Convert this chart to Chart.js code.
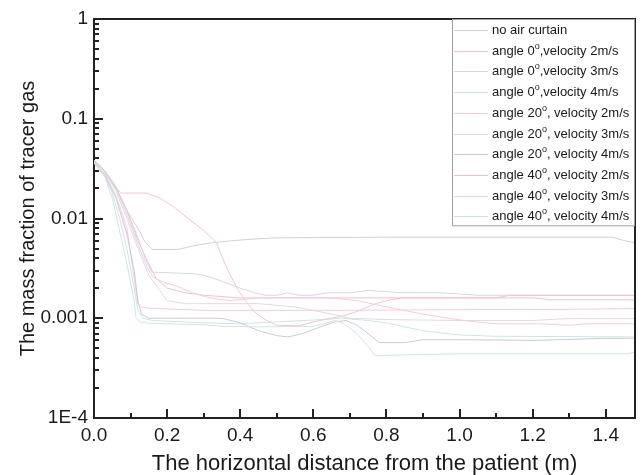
<!DOCTYPE html>
<html>
<head>
<meta charset="utf-8">
<script src="https://cdn.jsdelivr.net/npm/chart.js@4.4.1/dist/chart.umd.min.js"></script>
<style>
  html, body { margin: 0; padding: 0; background: #fff; }
  canvas { display: block; }
</style>
</head>
<body>
<canvas id="c" width="644" height="475"></canvas>
<script>
// ---------------- DATA ----------------
const seriesLabels = [
  'no air curtain',
  'angle 0°,velocity 2m/s',
  'angle 0°,velocity 3m/s',
  'angle 0°,velocity 4m/s',
  'angle 20°, velocity 2m/s',
  'angle 20°, velocity 3m/s',
  'angle 20°, velocity 4m/s',
  'angle 40°, velocity 2m/s',
  'angle 40°, velocity 3m/s',
  'angle 40°, velocity 4m/s'
];
const seriesColors = ['#d2d2d6','#f6c4cc','#d2d6ee','#cce9e0','#f6ccd8','#dedaec','#c9c9e0','#efc2ca','#f6ccd8','#cce7e0'];

const noCurtainX = [0,0.03,0.06,0.09,0.12,0.14,0.16,0.23,0.27,0.32,0.38,0.43,0.5,0.8,1.42,1.45,1.48];
const noCurtainY = [0.038,0.03,0.02,0.012,0.008,0.0058,0.0049,0.0049,0.0053,0.0057,0.006,0.0062,0.0064,0.0065,0.0065,0.006,0.0057];

const a0v2X = [0,0.02,0.04,0.06,0.075,0.145,0.18,0.22,0.26,0.3,0.335,0.36,0.38,0.395,0.42,0.44,0.47,0.5,0.56,0.6,0.65,0.68,0.72,0.77,0.8,0.84,1.1,1.14,1.48];
const a0v2Y = [0.038,0.033,0.026,0.02,0.018,0.018,0.016,0.013,0.0098,0.0076,0.0057,0.0034,0.0024,0.0019,0.0014,0.00115,0.00096,0.00085,0.00084,0.00092,0.001,0.00105,0.00117,0.0014,0.0015,0.0016,0.0016,0.0017,0.0017];

const a0v3X = [0,0.03,0.06,0.09,0.12,0.14,0.158,0.27,0.3,0.33,0.37,0.4,0.44,0.47,0.5,0.53,0.56,0.6,0.64,0.7,0.75,0.85,0.95,1.05,1.48];
const a0v3Y = [0.037,0.03,0.021,0.012,0.0065,0.004,0.0029,0.0028,0.0027,0.0025,0.0022,0.002,0.0018,0.0017,0.0017,0.0018,0.0017,0.0017,0.0018,0.0018,0.0019,0.0018,0.0018,0.0017,0.0017];

const a0v4X = [0,0.03,0.05,0.07,0.09,0.11,0.115,0.125,0.15,0.3,0.35,0.45,0.6,0.63,0.66,0.68,0.72,0.75,0.77,0.85,1.0,1.46,1.48];
const a0v4Y = [0.036,0.026,0.016,0.0075,0.0035,0.0015,0.001,0.00092,0.00089,0.00086,0.00083,0.00082,0.00083,0.00088,0.00095,0.0009,0.0007,0.00052,0.00042,0.00043,0.00044,0.00044,0.00046];

const a20v2X = [0,0.03,0.06,0.09,0.12,0.145,0.16,0.19,0.226,0.27,0.317,0.37,0.45,0.55,0.65,0.72,0.8,0.9,0.97,1.02,1.1,1.22,1.3,1.35,1.48];
const a20v2Y = [0.038,0.03,0.02,0.011,0.0055,0.0033,0.0026,0.0023,0.0021,0.0018,0.0016,0.0015,0.0016,0.0016,0.0016,0.0015,0.0013,0.0011,0.001,0.00094,0.00088,0.00088,0.00085,0.00088,0.00088];

const a20v3X = [0,0.03,0.06,0.09,0.12,0.15,0.18,0.2,0.25,0.35,0.45,0.55,0.6,0.65,0.7,0.8,1.0,1.2,1.29,1.48];
const a20v3Y = [0.037,0.029,0.019,0.01,0.005,0.0027,0.0019,0.0015,0.0014,0.0014,0.0014,0.0013,0.0012,0.0011,0.001,0.00097,0.00095,0.00095,0.00099,0.00099];

const a20v4X = [0,0.03,0.06,0.09,0.11,0.12,0.13,0.15,0.3,0.35,0.4,0.45,0.5,0.53,0.57,0.62,0.66,0.69,0.72,0.75,0.78,0.85,0.9,1.0,1.2,1.28,1.4,1.48];
const a20v4Y = [0.036,0.027,0.016,0.007,0.003,0.0015,0.0011,0.001,0.001,0.001,0.0009,0.00075,0.00067,0.00065,0.0007,0.00082,0.00092,0.00095,0.00085,0.0007,0.00057,0.00057,0.00061,0.00061,0.0006,0.00061,0.00063,0.00063];

const a40v2X = [0,0.03,0.06,0.09,0.12,0.15,0.17,0.2,0.25,0.3,0.4,0.6,0.85,1.0,1.2,1.25,1.48];
const a40v2Y = [0.038,0.03,0.02,0.012,0.006,0.0035,0.0025,0.002,0.0018,0.0017,0.0016,0.0016,0.0016,0.0016,0.0016,0.00153,0.00153];

const a40v3X = [0,0.03,0.06,0.09,0.11,0.12,0.13,0.15,0.3,0.5,0.7,1.0,1.3,1.48];
const a40v3Y = [0.037,0.028,0.017,0.008,0.0025,0.0014,0.0013,0.00126,0.0012,0.0012,0.0012,0.00122,0.00123,0.00125];

const a40v4X = [0,0.03,0.05,0.07,0.09,0.11,0.12,0.135,0.16,0.3,0.4,0.5,0.6,0.68,0.75,0.8,0.85,0.9,0.97,1.0,1.1,1.48];
const a40v4Y = [0.036,0.027,0.018,0.01,0.005,0.002,0.0012,0.001,0.00095,0.0009,0.00088,0.00092,0.00096,0.001,0.00095,0.0009,0.00082,0.00075,0.0007,0.00068,0.00066,0.00065];

const seriesX = [noCurtainX, a0v2X, a0v3X, a0v4X, a20v2X, a20v3X, a20v4X, a40v2X, a40v3X, a40v4X];
const seriesY = [noCurtainY, a0v2Y, a0v3Y, a0v4Y, a20v2Y, a20v3Y, a20v4Y, a40v2Y, a40v3Y, a40v4Y];

const xTickValues = [0,0.1,0.2,0.3,0.4,0.5,0.6,0.7,0.8,0.9,1.0,1.1,1.2,1.3,1.4];
const xTickLabels = ['0.0','','0.2','','0.4','','0.6','','0.8','','1.0','','1.2','','1.4'];
const yMajorValues = [1e-4, 1e-3, 1e-2, 0.1, 1];
const yMajorLabels = ['1E-4', '0.001', '0.01', '0.1', '1'];
const xTitle = 'The horizontal distance from the patient (m)';
const yTitle = 'The mass fraction of tracer gas';

// ---------------- CHART ----------------
const FONT = "'Liberation Sans', Arial, sans-serif";

const datasets = seriesLabels.map((lab, i) => ({
  label: lab,
  data: seriesX[i].map((x, j) => ({x: x, y: seriesY[i][j]})),
  borderColor: seriesColors[i],
  backgroundColor: seriesColors[i],
  borderWidth: 1,
  pointRadius: 0,
  tension: 0,
  fill: false
}));

function yAllTicks() {
  const t = [];
  for (let d = 0; d < yMajorValues.length; d++) {
    const base = yMajorValues[d];
    t.push({value: base});
    if (d < yMajorValues.length - 1) {
      for (let k = 2; k <= 9; k++) t.push({value: base * k});
    }
  }
  return t;
}

const inwardTicks = {
  id: 'inwardTicks',
  afterDatasetsDraw(chart) {
    const ctx = chart.ctx;
    const a = chart.chartArea;
    const xs = chart.scales.x, ys = chart.scales.y;
    ctx.save();
    ctx.strokeStyle = '#222';
    ctx.lineWidth = 2;
    ctx.beginPath();
    ctx.moveTo(a.left, a.top); ctx.lineTo(a.right, a.top); ctx.lineTo(a.right, a.bottom);
    ctx.stroke();
    xs.ticks.forEach((t, i) => {
      const px = Math.round(xs.getPixelForValue(t.value));
      const major = xTickLabels[i] !== '';
      ctx.lineWidth = 2;
      ctx.beginPath();
      ctx.moveTo(px, a.bottom);
      ctx.lineTo(px, a.bottom - (major ? 9 : 5));
      ctx.stroke();
    });
    ys.ticks.forEach(t => {
      const py = Math.round(ys.getPixelForValue(t.value));
      const major = yMajorValues.some(v => Math.abs(v - t.value) / v < 1e-9);
      ctx.lineWidth = 2;
      ctx.beginPath();
      ctx.moveTo(a.left, py);
      ctx.lineTo(a.left + (major ? 9 : 5), py);
      ctx.stroke();
    });
    ctx.restore();
  }
};

const insideLegend = {
  id: 'insideLegend',
  afterDraw(chart) {
    const ctx = chart.ctx;
    const a = chart.chartArea;
    const boxL = 452, boxT = a.top, boxR = a.right - 1, rowH = 20.7, firstY = 30;
    const boxB = firstY + rowH * (seriesLabels.length - 1) + 9;
    ctx.save();
    ctx.fillStyle = '#fff';
    ctx.fillRect(boxL, boxT + 1, boxR - boxL, boxB - boxT);
    ctx.strokeStyle = '#a0a0a0';
    ctx.lineWidth = 1;
    ctx.strokeRect(boxL + 0.5, boxT + 0.5, boxR - boxL, boxB - boxT);
    ctx.textBaseline = 'middle';
    ctx.fillStyle = '#1a1a1a';
    chart.data.datasets.forEach((ds, i) => {
      const y = Math.round(firstY + i * rowH) + 0.5;
      ctx.strokeStyle = ds.borderColor;
      ctx.beginPath();
      ctx.moveTo(boxL + 2, y); ctx.lineTo(boxL + 36, y);
      ctx.stroke();
      let x = boxL + 40;
      const parts = ds.label.split('°');
      ctx.font = '13px ' + FONT;
      ctx.fillText(parts[0], x, y);
      x += ctx.measureText(parts[0]).width;
      if (parts.length > 1) {
        ctx.font = '9px ' + FONT;
        ctx.fillText('o', x, y - 5);
        x += ctx.measureText('o').width;
        ctx.font = '13px ' + FONT;
        ctx.fillText(parts[1], x, y);
      }
    });
    ctx.restore();
  }
};

new Chart(document.getElementById('c'), {
  type: 'line',
  data: { datasets },
  options: {
    responsive: false,
    animation: false,
    devicePixelRatio: 1,
    layout: { padding: { top: 19, right: 9, left: 0, bottom: 0 } },
    plugins: { legend: { display: false }, tooltip: { enabled: false } },
    scales: {
      x: {
        type: 'linear',
        min: 0, max: 1.48,
        afterBuildTicks: s => { s.ticks = xTickValues.map(v => ({value: v})); },
        afterFit: s => { s.height = 57; },
        grid: { display: false, drawTicks: false },
        border: { display: true, color: '#222', width: 2 },
        ticks: {
          autoSkip: false, maxRotation: 0, padding: 6,
          color: '#1a1a1a', font: { family: FONT, size: 19 },
          callback: (v, i) => xTickLabels[i]
        },
        title: {
          display: true, text: xTitle, color: '#1a1a1a',
          font: { family: FONT, size: 22 }, padding: { top: 0, bottom: -2 }
        }
      },
      y: {
        type: 'logarithmic',
        min: 1e-4, max: 1,
        afterBuildTicks: s => { s.ticks = yAllTicks(); },
        afterFit: s => { s.width = 94; },
        grid: { display: false, drawTicks: false },
        border: { display: true, color: '#222', width: 2 },
        ticks: {
          autoSkip: false, padding: 6,
          color: '#1a1a1a', font: { family: FONT, size: 19 },
          callback: (v) => {
            const k = yMajorValues.findIndex(m => Math.abs(m - v) / m < 1e-9);
            return k >= 0 ? yMajorLabels[k] : '';
          }
        },
        title: {
          display: true, text: yTitle, color: '#1a1a1a',
          font: { family: FONT, size: 20 }, padding: { top: 16, bottom: 0 }
        }
      }
    }
  },
  plugins: [inwardTicks, insideLegend]
});
</script>
</body>
</html>
